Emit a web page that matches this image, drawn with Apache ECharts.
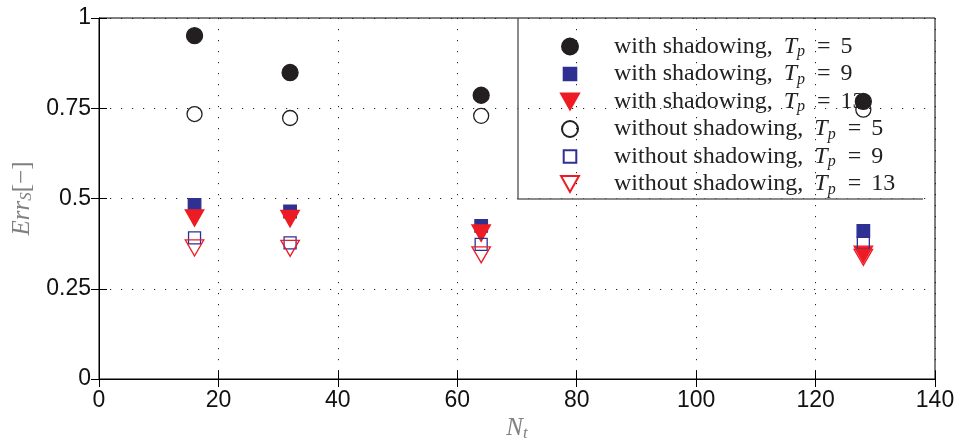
<!DOCTYPE html>
<html><head><meta charset="utf-8">
<script src="https://cdn.jsdelivr.net/npm/echarts@6/dist/echarts.min.js"></script>
<style>html,body{margin:0;padding:0;background:#fff}#c{width:965px;height:445px}</style>
</head><body><div id="c"></div>
<script>
const xValues = [16, 32, 64, 128];
const withT5 = [0.951, 0.849, 0.786, 0.769];
const withT9 = [0.482, 0.464, 0.424, 0.410];
const withT13 = [0.446, 0.444, 0.404, 0.345];
const withoutT5 = [0.734, 0.723, 0.729, 0.746];
const withoutT9 = [0.391, 0.377, 0.373, 0.376];
const withoutT13 = [0.363, 0.362, 0.344, 0.337];
const prefixes = ['with shadowing,', 'with shadowing,', 'with shadowing,', 'without shadowing,', 'without shadowing,', 'without shadowing,'];
const tpValues = ['5', '9', '13', '5', '9', '13'];
const xTickLabels = ['0','20','40','60','80','100','120','140'];
const yTickLabels = ['0','0.25','0.5','0.75','1'];

const names = prefixes.map((p, i) => p + ' T_p = ' + tpValues[i]);
const allData = [withT5, withT9, withT13, withoutT5, withoutT9, withoutT13];
const squareIcon = 'path://M0,0 M19,16 M3.2,1.7 L15.8,1.7 L15.8,14.3 L3.2,14.3 Z';
const triIcon = 'path://M0,0 L18.7,0 L9.35,16.7 Z';
const styles = [
  {symbol: 'circle', size: 16, fill: '#231f20', border: '#231f20', icon: 'circle'},
  {symbol: 'rect', size: 12.5, fill: '#2e3192', border: '#2e3192', icon: squareIcon},
  {symbol: 'triangle', size: [18.5, 16.5], fill: '#ed1c24', border: '#ed1c24', rotate: 180, icon: triIcon},
  {symbol: 'circle', size: 15, fill: 'rgba(0,0,0,0)', border: '#231f20', icon: 'circle'},
  {symbol: 'rect', size: 12, fill: 'rgba(0,0,0,0)', border: '#2e3192', icon: squareIcon},
  {symbol: 'triangle', size: [18.5, 16], fill: 'rgba(0,0,0,0)', border: '#ed1c24', rotate: 180, icon: triIcon}
];

const serif = 'Liberation Serif';
const sans = 'Liberation Sans';
const txt = '#222';
const richLegend = {
  p: {fontFamily: serif, fontSize: 24, color: txt, lineHeight: 26, padding: [0, 0, 0, 29.5]},
  t: {fontFamily: serif, fontSize: 24, color: txt, lineHeight: 26},
  e: {fontFamily: serif, fontSize: 24, color: txt, lineHeight: 26, padding: [0, 10, 0, 10]},
  i: {fontFamily: serif, fontSize: 24, fontStyle: 'italic', color: txt, lineHeight: 26, padding: [0, 0, 0, 11]},
  s: {fontFamily: serif, fontSize: 16, fontStyle: 'italic', color: txt, lineHeight: 14, padding: [11, 2, 0, 0]}
};

const series = allData.map((arr, k) => ({
  name: names[k],
  type: 'scatter',
  xAxisIndex: 0, yAxisIndex: 0,
  symbol: styles[k].symbol,
  symbolSize: styles[k].size,
  symbolRotate: styles[k].rotate || 0,
  itemStyle: {color: styles[k].fill, borderColor: styles[k].border, borderWidth: 1.3, opacity: 1},
  emphasis: {disabled: true},
  data: arr.map((v, j) => [xValues[j], v]),
  z: 5 + k
}));

const splitStyle = {show: true, lineStyle: {color: '#222', width: 1, type: [1.2, 9.8]}};
const tickStyle = {show: true, inside: true, length: 8, lineStyle: {color: '#000', width: 1}};
const gray = '#808080';

const option = {
  animation: false,
  backgroundColor: '#fff',
  grid: {left: 99, right: 30, top: 18, bottom: 66, outerBoundsMode: 'none', containLabel: false,
    show: true, borderColor: '#000', borderWidth: 1, backgroundColor: 'transparent'},
  xAxis: [{
    type: 'value', min: 0, max: 140, interval: 20, position: 'bottom',
    axisLine: {show: true, lineStyle: {color: '#000', width: 1}},
    axisTick: tickStyle,
    splitLine: splitStyle,
    axisLabel: {fontFamily: sans, fontSize: 23, color: '#111', margin: 10,
      formatter: (v) => xTickLabels[Math.round(v / 20)]},
    name: '{i|N}{s|t}', nameLocation: 'middle', nameGap: 36, nameMoveOverlap: false,
    nameTextStyle: {rich: {
      i: {fontFamily: serif, fontSize: 25, fontStyle: 'italic', color: gray, lineHeight: 26},
      s: {fontFamily: serif, fontSize: 17, fontStyle: 'italic', color: gray, lineHeight: 16, padding: [11, 0, 0, 0]}
    }}
  }, {
    type: 'value', min: 0, max: 140, interval: 20, position: 'top',
    axisLine: {show: true, lineStyle: {color: '#000', width: 1}},
    axisTick: tickStyle, axisLabel: {show: false}, splitLine: {show: false}
  }],
  yAxis: [{
    type: 'value', min: 0, max: 1, interval: 0.25, position: 'left',
    axisLine: {show: true, lineStyle: {color: '#000', width: 1}},
    axisTick: tickStyle,
    splitLine: splitStyle,
    axisLabel: {fontFamily: sans, fontSize: 23, color: '#111', margin: 8,
      formatter: (v) => yTickLabels[Math.round(v / 0.25)]},
    name: '{i|Err}{s|S}{t|[\u2212]}', nameLocation: 'middle', nameGap: 64, nameRotate: 90, nameMoveOverlap: false,
    nameTextStyle: {rich: {
      i: {fontFamily: serif, fontSize: 25, fontStyle: 'italic', color: gray, lineHeight: 26},
      s: {fontFamily: serif, fontSize: 17, fontStyle: 'italic', color: gray, lineHeight: 16, padding: [10, 0, 0, 0]},
      t: {fontFamily: serif, fontSize: 25, color: gray, lineHeight: 26}
    }}
  }, {
    type: 'value', min: 0, max: 1, interval: 0.25, position: 'right',
    axisLine: {show: true, lineStyle: {color: '#000', width: 1}},
    axisTick: tickStyle, axisLabel: {show: false}, splitLine: {show: false}
  }],
  legend: {
    orient: 'vertical', left: 559.5, top: 33,
    itemWidth: 19, itemHeight: 16, itemGap: 0.5,
    symbolKeepAspect: true,
    selectedMode: false,
    padding: 0,
    data: names.map((n, k) => ({name: n, icon: styles[k].icon})),
    formatter: (name) => {
      const k = names.indexOf(name);
      return '{p|' + prefixes[k] + '}{i|T}{s|p}{e|=}{t|' + tpValues[k] + '}';
    },
    textStyle: {rich: richLegend}
  },
  graphic: [{
    type: 'polyline', z: 100,
    shape: {points: [[518, 18], [518, 199], [923, 199]]},
    style: {stroke: '#666', lineWidth: 1.5, fill: null}
  }],
  series: series
};
const chart = echarts.init(document.getElementById('c'), null, {renderer: 'canvas'});
chart.setOption(option);
</script></body></html>
